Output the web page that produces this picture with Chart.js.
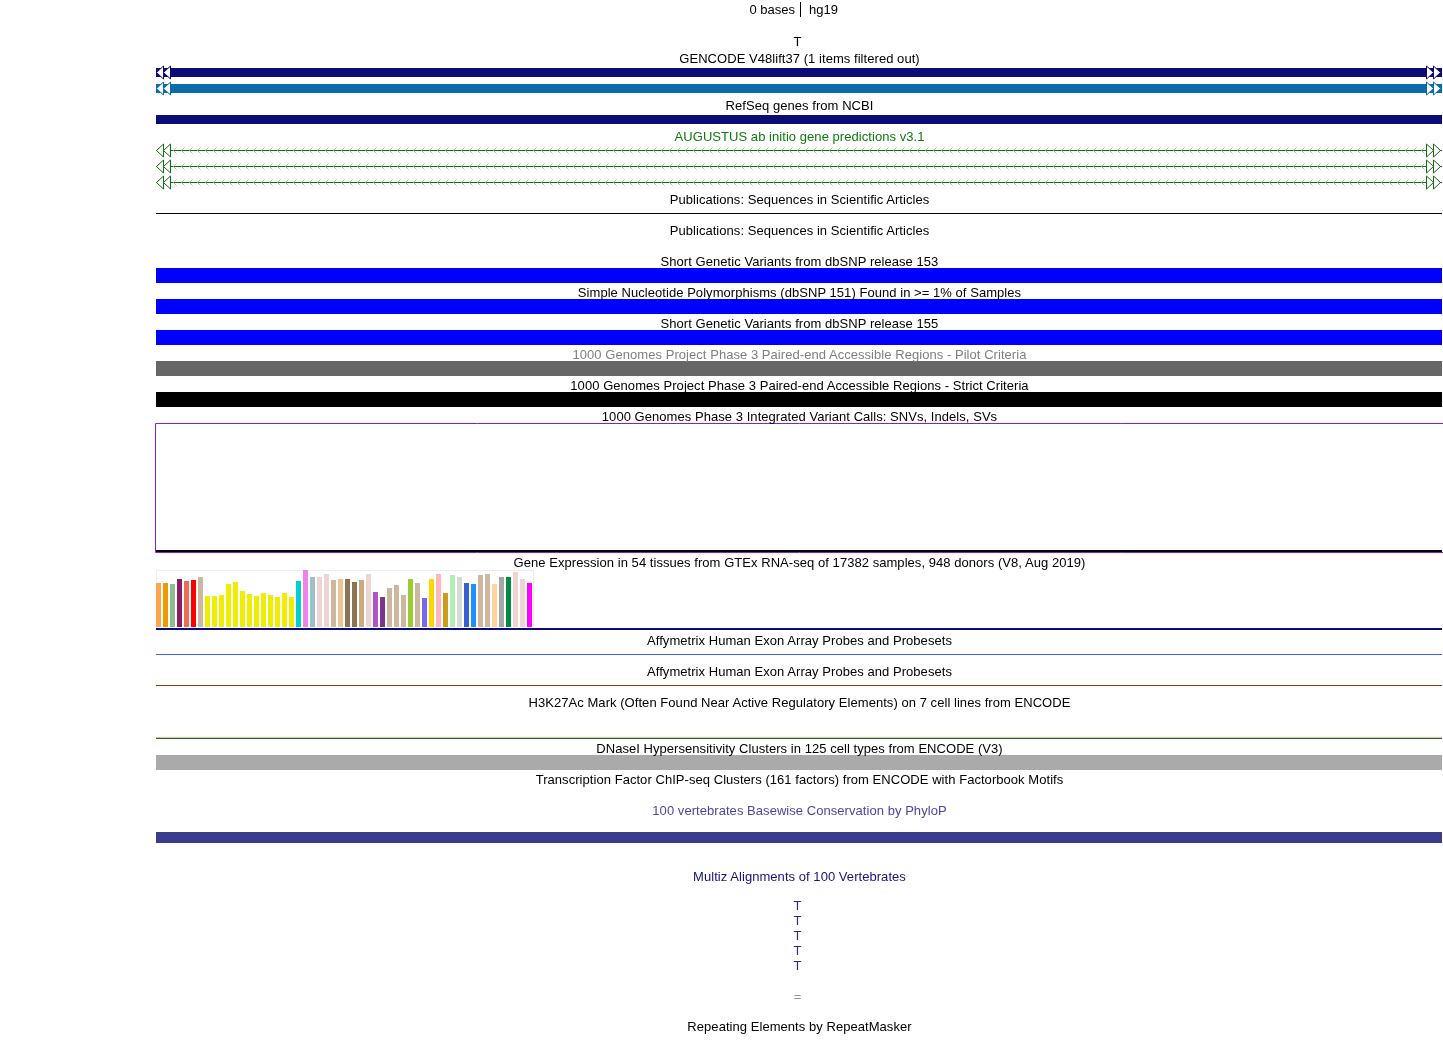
<!DOCTYPE html>
<html><head><meta charset="utf-8"><title>UCSC Genome Browser hg19</title>
<script src="https://cdn.jsdelivr.net/npm/chart.js@4.4.1/dist/chart.umd.min.js"></script>
<style>
html,body{margin:0;padding:0;background:#fff;}
#page{position:relative;width:1443px;height:1049px;overflow:hidden;font-family:"Liberation Sans",Arial,Helvetica,sans-serif;}
#trackCanvas{position:absolute;left:0;top:0;}
#gtexBox{position:absolute;left:156px;top:570px;width:378px;height:58px;box-sizing:border-box;border:1px solid #ececec;border-bottom:none;}
#gtexCanvas{position:absolute;left:155px;top:570px;}
.lbl{position:absolute;left:156px;width:1287px;text-align:center;font-size:13px;line-height:15px;white-space:pre;letter-spacing:0.05px;}
.base{left:154px;}
.hdr{position:absolute;font-size:13px;line-height:15px;white-space:pre;color:#000;}
#tick{position:absolute;left:800px;top:2px;width:1px;height:15px;background:#000;}
</style></head><body><div id="page">
<canvas id="trackCanvas" width="1443" height="1049"></canvas>
<div id="gtexBox"></div>
<canvas id="gtexCanvas" width="378" height="57"></canvas>
<div class="hdr" style="right:648px;top:2px;">0 bases</div>
<div id="tick"></div>
<div class="hdr" style="left:809px;top:2px;">hg19</div>
</div>
<script>
// ---------------- DATA ----------------
// Browser window: a single base (hg19, "0 bases" span)
const windowStart = 0;
const windowEnd = 1;

// Features overlapping the window (all extend past both edges)
const featureNames = ['gencode1','gencode2','refseq','augustus1','augustus2','augustus3','pubs',
  'dbsnp153','dbsnp151','dbsnp155','kgPilot','kgStrict','kgVariants','gtexBase',
  'affy1','affy2','h3k27ac1','h3k27ac2','dnase','phylop'];
const featureStarts = [0,0,0,0,0,0,0, 0,0,0,0,0,0,0, 0,0,0,0,0,0];
const featureEnds   = [1,1,1,1,1,1,1, 1,1,1,1,1,1,1, 1,1,1,1,1,1];

// GTEx median expression per tissue (relative units)
const gtexTissues = ['Adipose - Subcutaneous','Adipose - Visceral (Omentum)','Adrenal Gland','Artery - Aorta',
  'Artery - Coronary','Artery - Tibial','Bladder','Brain - Amygdala','Brain - Anterior cingulate cortex (BA24)',
  'Brain - Caudate (basal ganglia)','Brain - Cerebellar Hemisphere','Brain - Cerebellum','Brain - Cortex',
  'Brain - Frontal Cortex (BA9)','Brain - Hippocampus','Brain - Hypothalamus','Brain - Nucleus accumbens (basal ganglia)',
  'Brain - Putamen (basal ganglia)','Brain - Spinal cord (cervical c-1)','Brain - Substantia nigra','Breast - Mammary Tissue',
  'Cells - EBV-transformed lymphocytes','Cells - Cultured fibroblasts','Cervix - Ectocervix','Cervix - Endocervix',
  'Colon - Sigmoid','Colon - Transverse','Esophagus - Gastroesophageal Junction','Esophagus - Mucosa',
  'Esophagus - Muscularis','Fallopian Tube','Heart - Atrial Appendage','Heart - Left Ventricle','Kidney - Cortex',
  'Kidney - Medulla','Liver','Lung','Minor Salivary Gland','Muscle - Skeletal','Nerve - Tibial','Ovary','Pancreas',
  'Pituitary','Prostate','Skin - Not Sun Exposed (Suprapubic)','Skin - Sun Exposed (Lower leg)',
  'Small Intestine - Terminal Ileum','Spleen','Stomach','Testis','Thyroid','Uterus','Vagina','Whole Blood'];
const gtexValues = [44,44,43,48,46,47,50,31,31,32,43,45,36,33,31,34,32,30,34,30,
  46,57,50,50,53,47,48,48,45,47,53,35,30,39,42,32,48,44,29,48,53,34,52,50,44,43,52,53,43,50,50,55,48,44];
const gtexColors = ['#FFA54F','#EE9A00','#8FBC8F','#8B1C62','#EE6A50','#FF0000','#CDB79E',
  '#EEEE00','#EEEE00','#EEEE00','#EEEE00','#EEEE00','#EEEE00','#EEEE00','#EEEE00','#EEEE00','#EEEE00','#EEEE00','#EEEE00','#EEEE00',
  '#00CED1','#EE82EE','#9AC0CD','#EED5D2','#EED5D2','#CDB79E','#EEC591','#8B7355','#8B7355','#CDAA7D','#EED5D2',
  '#B452CD','#7A378B','#CDB79E','#CDB79E','#CDB79E','#9ACD32','#CDB79E','#7A67EE','#FFD700','#FFB6C1','#CD9B1D',
  '#B4EEB4','#D9D9D9','#3A5FCD','#1E90FF','#CDB79E','#CDB79E','#FFD39B','#A6A6A6','#008B45','#EED5D2','#EED5D2','#FF00FF'];
const gtexMax = 57;

// Track labels (text)
const labelTexts = ['T','GENCODE V48lift37 (1 items filtered out)','RefSeq genes from NCBI',
  'AUGUSTUS ab initio gene predictions v3.1','Publications: Sequences in Scientific Articles',
  'Publications: Sequences in Scientific Articles','Short Genetic Variants from dbSNP release 153',
  'Simple Nucleotide Polymorphisms (dbSNP 151) Found in >= 1% of Samples','Short Genetic Variants from dbSNP release 155',
  '1000 Genomes Project Phase 3 Paired-end Accessible Regions - Pilot Criteria',
  '1000 Genomes Project Phase 3 Paired-end Accessible Regions - Strict Criteria',
  '1000 Genomes Phase 3 Integrated Variant Calls: SNVs, Indels, SVs',
  'Gene Expression in 54 tissues from GTEx RNA-seq of 17382 samples, 948 donors (V8, Aug 2019)',
  'Affymetrix Human Exon Array Probes and Probesets','Affymetrix Human Exon Array Probes and Probesets',
  'H3K27Ac Mark (Often Found Near Active Regulatory Elements) on 7 cell lines from ENCODE',
  'DNaseI Hypersensitivity Clusters in 125 cell types from ENCODE (V3)',
  'Transcription Factor ChIP-seq Clusters (161 factors) from ENCODE with Factorbook Motifs',
  '100 vertebrates Basewise Conservation by PhyloP','Multiz Alignments of 100 Vertebrates',
  'T','T','T','T','T','=','Repeating Elements by RepeatMasker'];

// ---------------- LAYOUT / STYLE ----------------
const trackStyle = {
  gencode1:{top:68,h:9,color:'#0C0C78',arrows:'fill'},
  gencode2:{top:84,h:9,color:'#0C6DAD',arrows:'fill'},
  refseq:{top:115,h:9,color:'#0C0C78'},
  augustus1:{top:150,h:1,color:'#0F6E0F',arrows:'intron'},
  augustus2:{top:166,h:1,color:'#0F6E0F',arrows:'intron'},
  augustus3:{top:182,h:1,color:'#0F6E0F',arrows:'intron'},
  pubs:{top:213,h:1,color:'#000000'},
  dbsnp153:{top:268,h:15,color:'#0000FF'},
  dbsnp151:{top:299,h:15,color:'#0000FF'},
  dbsnp155:{top:330,h:15,color:'#0000FF'},
  kgPilot:{top:361,h:15,color:'#666666'},
  kgStrict:{top:392,h:15,color:'#000000'},
  kgVariants:{top:550,h:2,color:'#000000'},
  gtexBase:{top:628,h:2,color:'#0C0C78'},
  affy1:{top:654,h:1,color:'#4068D0'},
  affy2:{top:685,h:1,color:'#8B3A0A'},
  h3k27ac1:{top:737,h:1,color:'#F2C070'},
  h3k27ac2:{top:738,h:1,color:'#1D5F6A'},
  dnase:{top:755,h:15,color:'#AAAAAA'},
  phylop:{top:832,h:11,color:'#3C3C8C'}
};
// [centre y, colour, is base letter]
const labelLayout = [
  [41,'#000',1],[58,'#000'],[105,'#000'],[136,'#107A10'],[199,'#000'],[230,'#000'],[261,'#000'],[292,'#000'],
  [323,'#000'],[354,'#808080'],[385,'#000'],[416,'#000'],[562,'#000'],[640,'#000'],[671,'#000'],[702,'#000'],
  [748,'#000'],[779,'#000'],[810,'#4848A8'],[876,'#14147A'],[905,'#2C2C88',1],[920,'#2C2C88',1],[935,'#2C2C88',1],
  [950,'#2C2C88',1],[965,'#2C2C88',1],[996,'#8C8CC8',1],[1026,'#000']
];

// labels as real text
const page = document.getElementById('page');
labelTexts.forEach((t,i)=>{
  const d = document.createElement('div');
  d.className = labelLayout[i][2] ? 'lbl base' : 'lbl';
  d.textContent = t;
  d.style.top = Math.round(labelLayout[i][0] - 7.5) + 'px';
  d.style.color = labelLayout[i][1];
  page.appendChild(d);
});

// ---------------- TRACK CHART ----------------
const trackDatasets = featureNames.map((name,i)=>{
  const st = trackStyle[name];
  return {
    label:name,
    data:[{x:[featureStarts[i], featureEnds[i]], y: st.top + st.h/2}],
    backgroundColor: st.color,
    barThickness: st.h,
    stack:'rows',
    borderWidth:0,
    inflateAmount:0
  };
});

function tri(ctx, tipX, baseX, cy, half, stroke){
  ctx.beginPath();
  ctx.moveTo(tipX, cy);
  ctx.lineTo(baseX, cy - half);
  ctx.lineTo(baseX, cy + half);
  ctx.closePath();
  ctx.fillStyle = '#FFFFFF';
  ctx.fill();
  ctx.strokeStyle = stroke;
  ctx.lineWidth = 1;
  ctx.stroke();
}

const decorations = {
  id:'decorations',
  afterDatasetsDraw(chart){
    const ctx = chart.ctx;
    const xs = chart.scales.x, ys = chart.scales.y;
    ctx.save();
    featureNames.forEach((name,i)=>{
      const st = trackStyle[name];
      if(!st.arrows) return;
      const xl = Math.round(xs.getPixelForValue(Math.max(featureStarts[i],windowStart)));
      const xr = Math.round(xs.getPixelForValue(Math.min(featureEnds[i],windowEnd)));
      const cy = ys.getPixelForValue(st.top + st.h/2);
      if(st.arrows==='intron'){
        ctx.strokeStyle = '#9CD09C';
        ctx.lineWidth = 1;
        for(let x = xl + 17; x < xr - 17; x += 8){
          ctx.beginPath();
          ctx.moveTo(x + 3.5, cy - 3);
          ctx.lineTo(x + 0.5, cy);
          ctx.lineTo(x + 3.5, cy + 3);
          ctx.stroke();
        }
      }
      const cyA = Math.floor(cy) + 0.5;
      tri(ctx, xl + 0.5, xl + 7.5, cyA, 6.5, st.color);
      tri(ctx, xl + 7.5, xl + 14.5, cyA, 6.5, st.color);
      tri(ctx, xr - 1.5, xr - 8.5, cyA, 6.5, st.color);
      tri(ctx, xr - 8.5, xr - 15.5, cyA, 6.5, st.color);
    });
    // 1000 Genomes variant-call track frame
    ctx.strokeStyle = '#8A22B8';
    ctx.lineWidth = 1;
    ctx.beginPath();
    ctx.moveTo(1443, 423.5); ctx.lineTo(155.5, 423.5); ctx.lineTo(155.5, 552.5); ctx.lineTo(1443, 552.5);
    ctx.stroke();
    ctx.restore();
  }
};

new Chart(document.getElementById('trackCanvas'), {
  type:'bar',
  data:{datasets: trackDatasets},
  options:{
    indexAxis:'y',
    responsive:false,
    animation:false,
    events:[],
    layout:{padding:{left:156,right:1,top:0,bottom:0}},
    plugins:{legend:{display:false},tooltip:{enabled:false}},
    scales:{
      x:{type:'linear',min:windowStart,max:windowEnd,display:false,stacked:false,offset:false},
      y:{type:'linear',min:0,max:1049,reverse:true,display:false,offset:false}
    }
  },
  plugins:[decorations]
});

// ---------------- GTEx CHART ----------------
new Chart(document.getElementById('gtexCanvas'), {
  type:'bar',
  data:{labels:gtexTissues, datasets:[{data:gtexValues, backgroundColor:gtexColors,
    barPercentage:1, categoryPercentage:5/7, borderWidth:0, inflateAmount:0}]},
  options:{
    responsive:false,
    animation:false,
    events:[],
    layout:{padding:0},
    plugins:{legend:{display:false},tooltip:{enabled:false}},
    scales:{
      x:{display:false},
      y:{display:false,min:0,max:gtexMax}
    }
  }
});
</script>
</body></html>
